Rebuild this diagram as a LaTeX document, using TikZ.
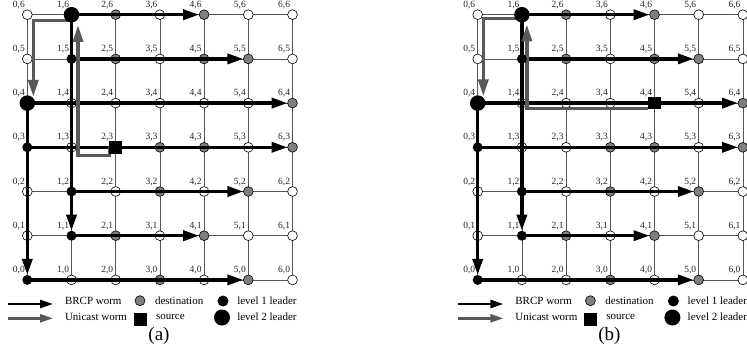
\documentclass[tikz,border=0pt]{standalone}
\usepackage{fontspec}
\setmainfont{Liberation Serif}
\usetikzlibrary{arrows.meta}
\pgfdeclarelayer{bg}
\pgfdeclarelayer{fg}
\pgfsetlayers{bg,main,fg}
\definecolor{destgray}{HTML}{7F7F7F}
\definecolor{unigray}{HTML}{595959}
\definecolor{gridgray}{HTML}{555555}
\tikzset{
 basenode/.style={inner sep=0pt, outer sep=0pt},
 wnode/.style={basenode, circle, draw=black, fill=white, line width=0.6pt, minimum size=9.8pt},
 dnode/.style={wnode, fill=destgray},
 lonenode/.style={basenode, circle, fill=black, minimum size=10pt},
 ltwonode/.style={basenode, circle, fill=black, minimum size=15.5pt},
 srcnode/.style={basenode, rectangle, fill=black, minimum size=12.5pt},
 coordlbl/.style={basenode, anchor=base east, font=\fontsize{9.5}{10}\selectfont, text=black!85},
 gridline/.style={draw=gridgray, line width=0.8pt},
 worm/.style={draw=black, line width=3.5pt, -{Triangle[length=16pt,width=10pt]}},
 uni/.style={draw=unigray, line width=3.5pt, -{Triangle[length=17pt,width=10pt]}},
 kworm/.style={draw=black, line width=2.5pt, -{Triangle[length=13pt,width=8pt]}},
 kuni/.style={kworm, draw=unigray},
 ltext/.style={basenode, anchor=base west, font=\fontsize{11}{12}\selectfont},
 captext/.style={basenode, anchor=base, font=\fontsize{19}{20}\selectfont},
}
% #1 prefix, #2 x offset, #3 extra white node i/j, #4 source i/j, #5 caption
\newcommand{\meshpanel}[5]{%
 \foreach \i/\j in {0/6,3/6,5/6,6/6,0/5,3/5,6/5,1/4,2/4,3/4,5/4,1/3,5/3,0/2,2/2,4/2,6/2,0/1,3/1,5/1,6/1,1/0,2/0,4/0,6/0,#3}
   \node[wnode] (#1-\i-\j) at ({#2+27.3+\i*44.2},{14.7+(6-\j)*44.2}) {};
 \foreach \i/\j in {2/6,4/6,2/5,4/5,5/5,6/4,3/3,4/3,6/3,3/2,5/2,2/1,4/1,3/0,5/0}
   \node[dnode] (#1-\i-\j) at ({#2+27.3+\i*44.2},{14.7+(6-\j)*44.2}) {};
 \begin{pgfonlayer}{fg}
 \foreach \i/\j in {1/5,0/3,1/2,1/1,0/0}
   \node[lonenode] (#1-\i-\j) at ({#2+27.3+\i*44.2},{14.7+(6-\j)*44.2}) {};
 \foreach \i/\j in {0/4,1/6}
   \node[ltwonode] (#1-\i-\j) at ({#2+27.3+\i*44.2},{14.7+(6-\j)*44.2}) {};
 \foreach \i/\j in {#4}
   \node[srcnode] (#1-\i-\j) at ({#2+27.3+\i*44.2},{14.7+(6-\j)*44.2}) {};
 \end{pgfonlayer}
 \foreach \i in {0,...,6} \foreach \j in {0,...,6}
   \node[coordlbl] (#1-lab-\i-\j) at ({#2+27.3+\i*44.2-2.5},{14.7+(6-\j)*44.2-7.5}) {\i,\j};
 \begin{pgfonlayer}{bg}
 \foreach \k in {0,...,6} {
   \draw[gridline] (#1-0-\k.center) -- (#1-6-\k.center);
   \draw[gridline] (#1-\k-0.center) -- (#1-\k-6.center);
 }
 \end{pgfonlayer}
 \draw[worm] (#1-1-6.center) -- (#1-4-6);
 \draw[worm] (#1-1-5.center) -- (#1-5-5);
 \draw[worm] (#1-0-4.center) -- (#1-6-4);
 \draw[worm] (#1-0-3.center) -- (#1-6-3);
 \draw[worm] (#1-1-2.center) -- (#1-5-2);
 \draw[worm] (#1-1-1.center) -- (#1-4-1);
 \draw[worm] (#1-0-0.center) -- (#1-5-0);
 \draw[worm] (#1-1-6.center) -- (#1-1-1);
 \draw[worm] (#1-0-4.center) -- (#1-0-0);
 % legend
 \coordinate (#1-k1a) at (#2+8,304);
 \coordinate (#1-k1b) at (#2+53,304);
 \coordinate (#1-k2a) at (#2+8,318.3);
 \coordinate (#1-k2b) at (#2+53,318.3);
 \draw[kworm] (#1-k1a) -- (#1-k1b);
 \draw[kuni] (#1-k2a) -- (#1-k2b);
 \node[ltext] (#1-t1) at (#2+65,304) {BRCP worm};
 \node[ltext] (#1-t2) at (#2+65,320) {Unicast worm};
 \node[dnode, minimum size=10pt] (#1-kd) at (#2+140,300.7) {};
 \node[ltext] (#1-t3) at (#2+155,304) {destination};
 \node[srcnode, minimum size=13pt] (#1-ks) at (#2+140,319.2) {};
 \node[ltext] (#1-t4) at (#2+156,319.5) {source};
 \node[lonenode, minimum size=11pt] (#1-k1) at (#2+223,301) {};
 \node[ltext] (#1-t5) at (#2+237.3,304) {level 1 leader};
 \node[ltwonode, minimum size=16pt] (#1-k2) at (#2+222,317.5) {};
 \node[ltext] (#1-t6) at (#2+237.3,320) {level 2 leader};
 \node[captext] (#1-cap) at (#2+159,340) {#5};
}
\begin{document}
\begin{tikzpicture}[x=1pt,y=-1pt]
\useasboundingbox (0,0) rectangle (747,356);
\meshpanel{a}{0}{4/4}{2/3}{(a)}
\draw[uni] ([xshift=-6pt]a-2-3.center) |- ([xshift=6.5pt,yshift=-8.3pt]a-1-3.center) -- ([xshift=6.5pt,yshift=-2.5pt]a-1-6.south);
\draw[uni] ([xshift=-3pt,yshift=-6pt]a-1-6.center) -| ([xshift=6pt,yshift=-1.5pt]a-0-4.north);
\meshpanel{b}{450.4}{2/3}{4/4}{(b)}
\draw[uni] ([xshift=-7pt,yshift=-5.6pt]b-4-4.center) -| ([xshift=5pt,yshift=-2pt]b-1-6.south);
\draw[uni] ([xshift=-3pt,yshift=-3.6pt]b-1-6.center) -| ([xshift=5.6pt,yshift=-1pt]b-0-4.north);
\end{tikzpicture}
\end{document}
